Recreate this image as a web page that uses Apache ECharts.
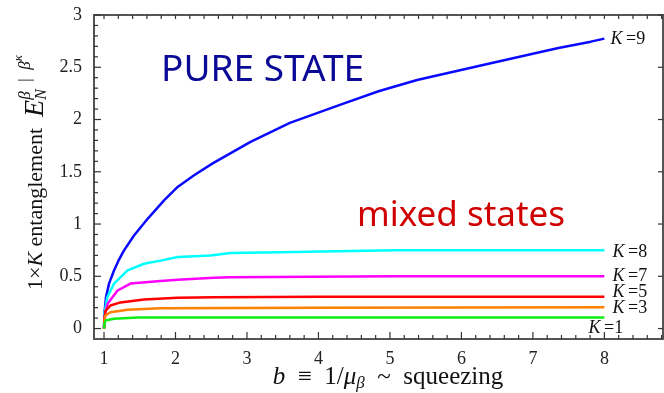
<!DOCTYPE html>
<html><head><meta charset="utf-8">
<script src="https://cdn.jsdelivr.net/npm/echarts@6/dist/echarts.min.js"></script>
<style>html,body{margin:0;padding:0;background:#fff}#c{width:664px;height:393px}</style>
</head><body><div id="c"></div>
<script>
// ---- data ----
const xMajor = [1, 2, 3, 4, 5, 6, 7, 8];
const xMinor = [1.2, 1.4, 1.6, 1.8, 2.2, 2.4, 2.6, 2.8, 3.2, 3.4, 3.6, 3.8, 4.2, 4.4, 4.6, 4.8, 5.2, 5.4, 5.6, 5.8, 6.2, 6.4, 6.6, 6.8, 7.2, 7.4, 7.6, 7.8, 8.2, 8.4, 8.6, 8.8];
const yMajor = [0, 0.5, 1, 1.5, 2, 2.5, 3];
const yMinor = [0.1, 0.2, 0.3, 0.4, 0.6, 0.7, 0.8, 0.9, 1.1, 1.2, 1.3, 1.4, 1.6, 1.7, 1.8, 1.9, 2.1, 2.2, 2.3, 2.4, 2.6, 2.7, 2.8, 2.9];

const k9X = [1, 1.005, 1.028, 1.07, 1.14, 1.21, 1.28, 1.42, 1.61, 1.84, 2.03, 2.26, 2.52, 3.05, 3.6, 4.3, 4.84, 5.38, 6.41, 7.34, 7.81, 8];
const k9Y = [0, 0.14, 0.30, 0.43, 0.556, 0.66, 0.748, 0.89, 1.05, 1.227, 1.355, 1.467, 1.58, 1.786, 1.968, 2.14, 2.27, 2.378, 2.538, 2.682, 2.745, 2.774];
const k8X = [1, 1.005, 1.046, 1.14, 1.33, 1.56, 1.79, 2.03, 2.49, 2.77, 3.66, 5.06, 8];
const k8Y = [0, 0.14, 0.30, 0.43, 0.556, 0.62, 0.65, 0.684, 0.70, 0.722, 0.732, 0.748, 0.75];
const k7X = [1, 1.008, 1.05, 1.19, 1.37, 1.79, 2.03, 2.54, 2.77, 5.06, 8];
const k7Y = [0, 0.12, 0.237, 0.364, 0.43, 0.454, 0.467, 0.486, 0.492, 0.50, 0.50];
const k5X = [1, 1.008, 1.02, 1.09, 1.23, 1.56, 2.03, 2.54, 4, 8];
const k5Y = [0, 0.10, 0.17, 0.22, 0.25, 0.278, 0.294, 0.30, 0.305, 0.305];
const k3X = [1, 1.008, 1.02, 1.09, 1.33, 1.79, 4, 8];
const k3Y = [0, 0.08, 0.125, 0.156, 0.18, 0.195, 0.20, 0.204];
const k1X = [1, 1.008, 1.02, 1.14, 1.47, 8];
const k1Y = [0, 0.05, 0.077, 0.093, 0.105, 0.105];

const curveNames = ['9', '8', '7', '5', '3', '1'];
const curveColors = ['#0a0aff', '#00ffff', '#ff00ff', '#ff0000', '#ff8000', '#11ee11'];

// ---- styles / layout ----
const SERIF = '"Liberation Serif", "Times New Roman", serif';
const X_MIN = 0.86, X_MAX = 8.82, Y_MIN = -0.1, Y_MAX = 3;
const pairs = (xs, ys) => xs.map((x, i) => [x, ys[i]]);
const curves = [[k9X, k9Y], [k8X, k8Y], [k7X, k7Y], [k5X, k5Y], [k3X, k3Y], [k1X, k1Y]];
const labelOffsets = [[0, 1], [2, 2], [2, 0], [2, -4], [2, 1], [-22, 11]];

// tick marks on the frame: [x, y, side(0 bottom,1 top,2 left,3 right), length px]
const tickData = []
  .concat(xMajor.map(v => [v, Y_MIN, 0, 7]))
  .concat(xMinor.map(v => [v, Y_MIN, 0, 4]))
  .concat(xMajor.concat(xMinor).map(v => [v, Y_MAX, 1, 4]))
  .concat(yMajor.map(v => [X_MIN, v, 2, 7]))
  .concat(yMinor.map(v => [X_MIN, v, 2, 4]))
  .concat(yMajor.map(v => [X_MAX, v, 3, 5]));

const chart = echarts.init(document.getElementById('c'));

const mctx = document.createElement('canvas').getContext('2d');
function measure(text, font) { mctx.font = font; return mctx.measureText(text).width; }
function composeText(parts, pos, rotation, align) {
  let x = 0, lastStart = 0;
  const kids = [];
  parts.forEach(p => {
    const font = (p.italic ? 'italic ' : '') + p.size + 'px ' + SERIF;
    const start = p.sameX ? lastStart : x;
    kids.push({type: 'text', x: start, y: p.dy || 0,
      style: {text: p.t, font: font, fill: '#111', align: 'left', verticalAlign: 'middle'}});
    const w = measure(p.t, font);
    lastStart = start;
    x = Math.max(x, start + w);
  });
  const shift = align === 'center' ? -x / 2 : 0;
  kids.forEach(k => k.x += shift);
  return {type: 'group', x: pos[0], y: pos[1], rotation: rotation, children: kids, silent: true};
}

const xTitle = composeText([
  {t: 'b', size: 25, italic: true},
  {t: '  \u2261  1/', size: 25},
  {t: '\u03bc', size: 25, italic: true},
  {t: '\u03b2', size: 17, italic: true, dy: 7},
  {t: '  ~  squeezing', size: 25}
], [388, 377], 0, 'center');

const yTitle = composeText([
  {t: '1\u00d7', size: 22},
  {t: 'K', size: 22, italic: true},
  {t: ' entanglement  ', size: 22},
  {t: 'E', size: 28, italic: true},
  {t: 'N', size: 16, italic: true, dy: 6},
  {t: '\u03b2  |  \u03b2', size: 17, italic: true, dy: -10, sameX: true},
  {t: '\u03ba', size: 13, italic: true, dy: -17}
], [36, 290], Math.PI / 2, 'left');

function xAx(pos, labels) {
  return {type: 'value', min: X_MIN, max: X_MAX, position: pos, splitLine: {show: false},
    axisLine: {show: true, onZero: false, lineStyle: {color: '#555', width: 2}},
    axisTick: {show: false},
    axisLabel: labels ? {show: true, customValues: xMajor.slice(), margin: 11, fontFamily: SERIF, fontSize: 18, color: '#222'} : {show: false}};
}
function yAx(pos, labels) {
  return {type: 'value', min: Y_MIN, max: Y_MAX, position: pos, splitLine: {show: false},
    axisLine: {show: true, onZero: false, lineStyle: {color: '#555', width: 2}},
    axisTick: {show: false},
    axisLabel: labels ? {show: true, customValues: yMajor.slice(), margin: 12, fontFamily: SERIF, fontSize: 18, color: '#222'} : {show: false}};
}

const lineSeries = curves.map((c, i) => ({
  type: 'line', name: 'K=' + curveNames[i], xAxisIndex: 0, yAxisIndex: 0,
  data: pairs(c[0], c[1]), showSymbol: false, smooth: false,
  lineStyle: {color: curveColors[i], width: 2.5}, itemStyle: {color: curveColors[i]},
  endLabel: {show: true, distance: 6, offset: labelOffsets[i],
    formatter: '{k|K}{r|\u2009=' + curveNames[i] + '}',
    rich: {k: {fontFamily: SERIF, fontStyle: 'italic', fontSize: 18, color: '#111'},
           r: {fontFamily: SERIF, fontSize: 18, color: '#111'}}}
}));

const tickSeries = {
  type: 'custom', name: 'ticks', xAxisIndex: 0, yAxisIndex: 0, silent: true, clip: false, z: 20,
  data: tickData,
  encode: {x: 0, y: 1},
  renderItem: function (params, api) {
    const p = api.coord([api.value(0), api.value(1)]);
    const side = api.value(2), len = api.value(3);
    let x2 = p[0], y2 = p[1];
    if (side === 0) y2 -= len;
    else if (side === 1) y2 += len;
    else if (side === 2) x2 += len;
    else x2 -= len;
    return {type: 'line', shape: {x1: p[0], y1: p[1], x2: x2, y2: y2},
      style: {stroke: '#333', lineWidth: 1.2}};
  }
};

const option = {
  animation: false,
  grid: {left: 94, right: 1, top: 15, bottom: 54},
  xAxis: [xAx('bottom', true), xAx('top', false)],
  yAxis: [yAx('left', true), yAx('right', false)],
  series: lineSeries.concat([tickSeries]),
  graphic: [
    {type: 'text', x: 161, y: 70, silent: true,
     style: {text: 'PURE STATE', font: '37px "Noto Sans"', fill: '#0a0a96', verticalAlign: 'middle'}},
    {type: 'text', x: 357, y: 216, silent: true,
     style: {text: 'mixed states', font: '35px "Noto Sans"', fill: '#d00000', verticalAlign: 'middle'}},
    xTitle, yTitle
  ]
};
chart.setOption(option);
</script></body></html>
